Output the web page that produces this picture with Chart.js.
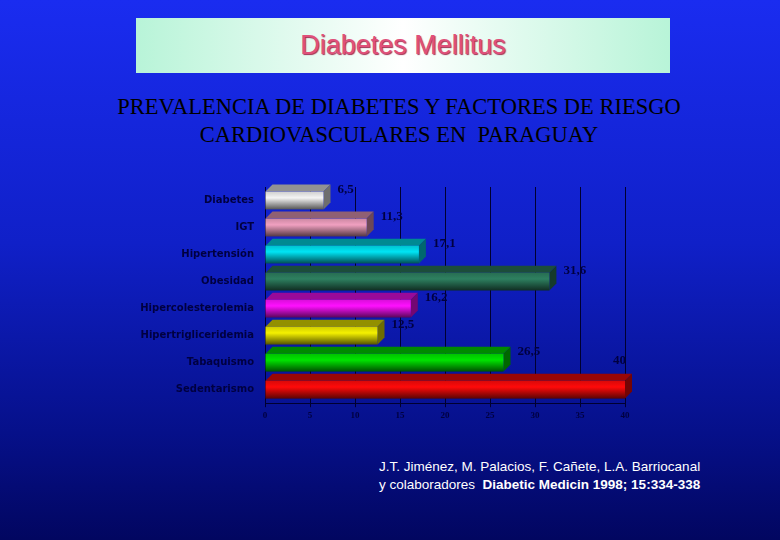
<!DOCTYPE html>
<html><head><meta charset="utf-8">
<script src="https://cdn.jsdelivr.net/npm/chart.js@4/dist/chart.umd.min.js"></script>
<style>
body{margin:0;width:780px;height:540px;overflow:hidden;background:linear-gradient(#1a2cf0 0%,#1020c8 45%,#06108a 80%,#020660 100%);position:relative;font-family:"Liberation Sans",Arial,sans-serif}
#tbox{position:absolute;left:136px;top:18px;width:534px;height:55px;background:linear-gradient(90deg,#b8f4d8,#ffffff 50%,#b8f4d8);text-align:center}
#tbox span{font-size:27px;line-height:55px;color:#e0507a;text-shadow:1px 1px 1px #a03050}
#sub{position:absolute;left:0;top:93px;width:798px;text-align:center;font-family:"Liberation Serif","Times New Roman",serif;font-size:22.5px;line-height:28px;color:#000}
#cite{position:absolute;left:379px;top:458px;color:#fff;font-size:13.5px;line-height:18px}
#wrap{position:absolute;left:140px;top:178px;width:520px;height:246px}
</style></head><body>
<div id="tbox"><span>Diabetes Mellitus</span></div>
<div id="sub">PREVALENCIA DE DIABETES Y FACTORES DE RIESGO<br>CARDIOVASCULARES EN &nbsp;PARAGUAY</div>
<div id="wrap"><canvas id="c"></canvas></div>
<div id="cite">J.T. Jiménez, M. Palacios, F. Cañete, L.A. Barriocanal<br>y colaboradores &nbsp;<b>Diabetic Medicin 1998; 15:334-338</b></div>
<script>
const categories = ["Diabetes","IGT","Hipertensión","Obesidad","Hipercolesterolemia","Hipertrigliceridemia","Tabaquismo","Sedentarismo"];
const values = [6.5, 11.3, 17.1, 31.6, 16.2, 12.5, 26.5, 40];
const valueLabels = ["6,5","11,3","17,1","31,6","16,2","12,5","26,5","40"];
const barColors = ["#f4f4f4","#f0a0c0","#00e4f4","#2e8060","#ff10ff","#f4f000","#00e400","#ff0a0a"];

function shade(hex, f){
  const n = parseInt(hex.slice(1),16);
  const r = Math.round(((n>>16)&255)*f), g = Math.round(((n>>8)&255)*f), b = Math.round((n&255)*f);
  return `rgb(${r},${g},${b})`;
}

const bars3d = {
  id:'bars3d',
  afterDatasetsDraw(chart){
    const ctx = chart.ctx, d = 7;
    chart.getDatasetMeta(0).data.forEach((el,i)=>{
      const x0 = el.base, x1 = el.x, h = el.height, y0 = el.y - h/2, y1 = el.y + h/2;
      const c = barColors[i];
      ctx.save();
      ctx.fillStyle = shade(c,0.6);
      ctx.beginPath();
      ctx.moveTo(x0,y0);ctx.lineTo(x0+d,y0-d);ctx.lineTo(x1+d,y0-d);ctx.lineTo(x1,y0);ctx.closePath();ctx.fill();
      ctx.fillStyle = shade(c,0.45);
      ctx.beginPath();
      ctx.moveTo(x1,y0);ctx.lineTo(x1+d,y0-d);ctx.lineTo(x1+d,y1-d);ctx.lineTo(x1,y1);ctx.closePath();ctx.fill();
      const g = ctx.createLinearGradient(0,y0,0,y1);
      g.addColorStop(0,shade(c,0.85));g.addColorStop(0.35,c);g.addColorStop(1,shade(c,0.35));
      ctx.fillStyle = g;
      ctx.fillRect(x0,y0,x1-x0,h);
      ctx.fillStyle = '#000040';
      ctx.font = 'bold 13px "Liberation Serif", serif';
      ctx.textBaseline = 'middle';
      const lx = Math.min(x1 + 14, chart.chartArea.right - 12);
      ctx.fillText(valueLabels[i], lx, y0 - (i===7 ? 20 : 2));
      ctx.restore();
    });
  }
};

new Chart(document.getElementById('c'), {
  type:'bar',
  data:{labels:categories,datasets:[{data:values,backgroundColor:'rgba(0,0,0,0)',barPercentage:0.66,categoryPercentage:1}]},
  options:{
    indexAxis:'y',responsive:true,maintainAspectRatio:false,animation:false,
    layout:{padding:{top:8,right:35,left:0,bottom:0}},
    plugins:{legend:{display:false},tooltip:{enabled:false}},
    scales:{
      x:{min:0,max:40,ticks:{stepSize:5,color:'#000040',font:{size:9,weight:'bold',family:'"Liberation Serif", serif'}},
         grid:{color:'#000030',lineWidth:1,drawTicks:true,tickColor:'#000030',tickLength:4},border:{color:'#000030'}},
      y:{afterFit(s){s.width=125;},ticks:{color:'#000040',font:{size:10,weight:'bold',family:'"DejaVu Sans", sans-serif'}},
         grid:{display:false},border:{color:'#000030'}}
    }
  },
  plugins:[bars3d]
});
</script>
</body></html>
